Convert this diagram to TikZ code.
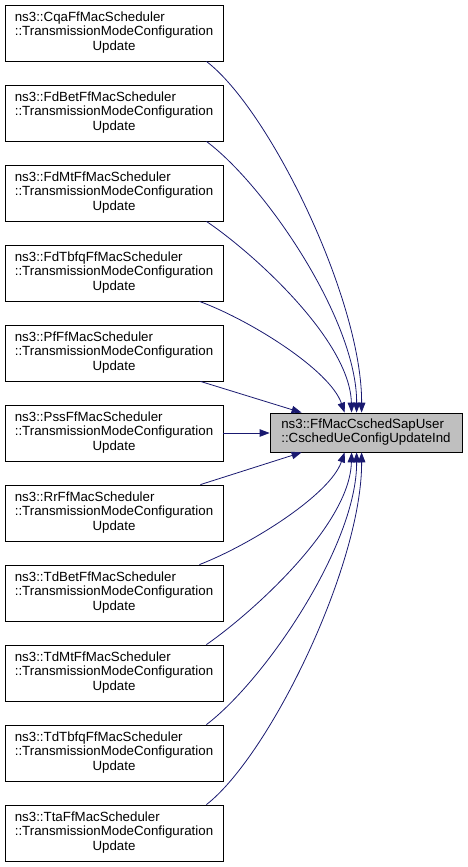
\documentclass[tikz,border=0pt]{standalone}
\usepackage{fontspec}
\setmainfont{Liberation Sans}
\usetikzlibrary{arrows.meta}
\definecolor{edgeblue}{RGB}{25,25,112}
\definecolor{mainfill}{RGB}{191,191,191}
\newcommand{\lbl}[3]{\begin{tabular}{@{}l@{}}#1\\#2\\\multicolumn{1}{@{}c@{}}{#3}\end{tabular}}
\begin{document}
\begin{tikzpicture}[x=1pt,y=-1pt,
  every node/.style={font=\fontsize{13.3}{14.5}\selectfont},
  fbox/.style={draw=black,line width=0.8pt,fill=white,minimum width=218pt,minimum height=56pt,inner sep=0pt},
  mbox/.style={draw=black,line width=0.8pt,fill=mainfill,minimum width=192pt,minimum height=39pt,inner sep=0pt},
  edge/.style={draw=edgeblue,line width=0.8pt,-{Triangle[length=10pt,width=7.5pt]}}]
\useasboundingbox (0,0) rectangle (467,867);
\node[mbox] (m) at (366,432.5) {\begin{tabular}{@{}l@{}}ns3::FfMacCschedSapUser\\::CschedUeConfigUpdateInd\end{tabular}};
\node[fbox] (b0) at (114,33) {\lbl{ns3::CqaFfMacScheduler}{::TransmissionModeConfiguration}{Update}};
\node[fbox] (b1) at (114,113) {\lbl{ns3::FdBetFfMacScheduler}{::TransmissionModeConfiguration}{Update}};
\node[fbox] (b2) at (114,193) {\lbl{ns3::FdMtFfMacScheduler}{::TransmissionModeConfiguration}{Update}};
\node[fbox] (b3) at (114,273) {\lbl{ns3::FdTbfqFfMacScheduler}{::TransmissionModeConfiguration}{Update}};
\node[fbox] (b4) at (114,353) {\lbl{ns3::PfFfMacScheduler}{::TransmissionModeConfiguration}{Update}};
\node[fbox] (b5) at (114,433) {\lbl{ns3::PssFfMacScheduler}{::TransmissionModeConfiguration}{Update}};
\node[fbox] (b6) at (114,513) {\lbl{ns3::RrFfMacScheduler}{::TransmissionModeConfiguration}{Update}};
\node[fbox] (b7) at (114,593) {\lbl{ns3::TdBetFfMacScheduler}{::TransmissionModeConfiguration}{Update}};
\node[fbox] (b8) at (114,673) {\lbl{ns3::TdMtFfMacScheduler}{::TransmissionModeConfiguration}{Update}};
\node[fbox] (b9) at (114,753) {\lbl{ns3::TdTbfqFfMacScheduler}{::TransmissionModeConfiguration}{Update}};
\node[fbox] (b10) at (114,833) {\lbl{ns3::TtaFfMacScheduler}{::TransmissionModeConfiguration}{Update}};
% upper edges
\draw[edge] ([xshift=-17pt]b0.south east) .. controls (270,110) and (362,300) .. ([xshift=92pt]m.north west);
\draw[edge] ([xshift=-17pt]b1.south east) .. controls (265,185) and (357,320) .. ([xshift=87pt]m.north west);
\draw[edge] ([xshift=-17pt]b2.south east) .. controls (252,252) and (350,340) .. ([xshift=82pt]m.north west);
\draw[edge] ([xshift=-24pt]b3.south east) .. controls (250,320) and (330,370) .. ([xshift=75pt]m.north west);
\draw[edge] ([xshift=-23pt]b4.south east) -- ([xshift=32pt]m.north west);
\draw[edge] (b5.east) -- (m.west |- b5.east);
% lower edges
\draw[edge] ([xshift=-23pt]b6.north east) -- ([xshift=32pt]m.south west);
\draw[edge] ([xshift=-24pt]b7.north east) .. controls (250,545) and (330,495) .. ([xshift=75pt]m.south west);
\draw[edge] ([xshift=-17pt]b8.north east) .. controls (252,613) and (350,525) .. ([xshift=82pt]m.south west);
\draw[edge] ([xshift=-17pt]b9.north east) .. controls (265,680) and (357,545) .. ([xshift=87pt]m.south west);
\draw[edge] ([xshift=-17pt]b10.north east) .. controls (270,755) and (362,565) .. ([xshift=92pt]m.south west);
\end{tikzpicture}
\end{document}
